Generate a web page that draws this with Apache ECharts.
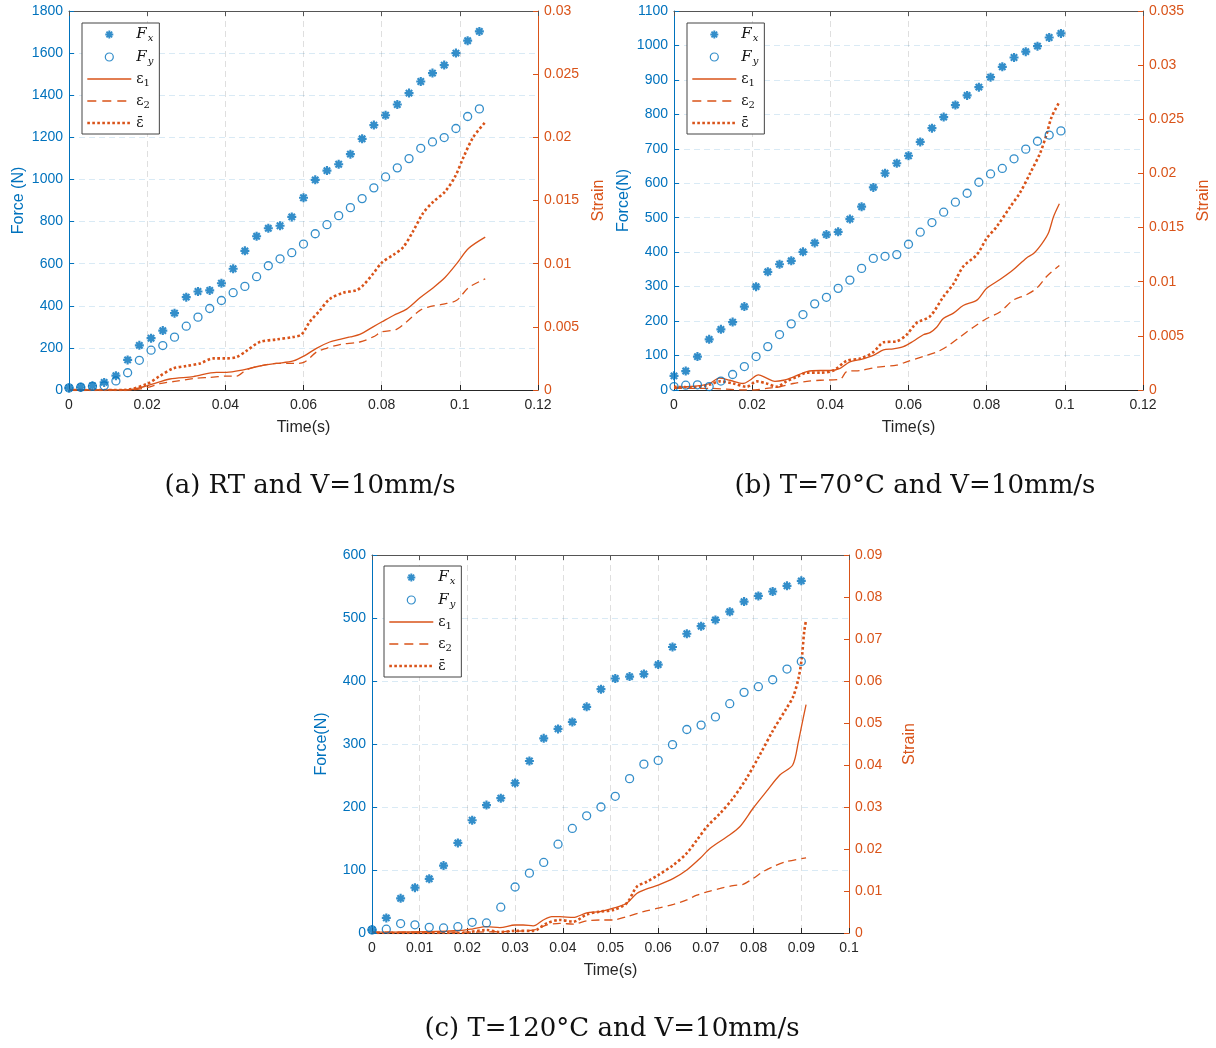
<!DOCTYPE html>
<html><head><meta charset="utf-8">
<script src="https://cdn.jsdelivr.net/npm/echarts@6/dist/echarts.min.js"></script>
<style>html,body{margin:0;padding:0;background:#fff}#c{width:1216px;height:1048px}</style>
</head><body><div id="c"></div>
<script>
// ---------- (a) RT ----------
const aT = [0,0.003,0.006,0.009,0.012,0.015,0.018,0.021,0.024,0.027,0.030,0.033,0.036,0.039,0.042,0.045,0.048,0.051,0.054,0.057,0.060,0.063,0.066,0.069,0.072,0.075,0.078,0.081,0.084,0.087,0.090,0.093,0.096,0.099,0.102,0.105];
const aFx = [10,13,20,36,68,143,212,246,282,365,441,468,473,507,576,661,730,768,780,822,913,998,1042,1072,1120,1193,1258,1305,1356,1410,1465,1505,1543,1600,1659,1703];
const aFy = [10,13,17,20,43,82,141,189,211,251,303,346,387,425,462,492,538,590,623,652,693,742,785,828,866,909,960,1012,1055,1099,1148,1178,1199,1242,1299,1335];
const aE1T = [0,0.010,0.0147,0.0201,0.0258,0.0318,0.0377,0.0403,0.0446,0.0488,0.0531,0.0574,0.0602,0.0633,0.0667,0.0693,0.0719,0.0744,0.0778,0.0801,0.0830,0.0864,0.0898,0.0932,0.0962,0.0992,0.1022,0.1065];
const aE1 = [0,0,0,0.00034,0.00087,0.00106,0.0014,0.0014,0.0016,0.0019,0.0021,0.0023,0.0027,0.0033,0.0038,0.004,0.0042,0.0044,0.005,0.0054,0.0059,0.0064,0.0073,0.0081,0.0089,0.01,0.0112,0.0121];
const aE2T = [0,0.0155,0.0201,0.0232,0.0275,0.0318,0.036,0.0403,0.0428,0.0454,0.0488,0.0531,0.0574,0.0602,0.0633,0.0659,0.0693,0.0744,0.0778,0.0801,0.0838,0.0864,0.0898,0.0923,0.0958,0.0992,0.1022,0.1065];
const aE2 = [0,0,0.0002,0.0005,0.0007,0.0009,0.001,0.0011,0.0011,0.0016,0.0019,0.0021,0.0021,0.0022,0.003,0.0033,0.0036,0.0038,0.0042,0.0046,0.0048,0.0054,0.0063,0.0066,0.0068,0.0071,0.0081,0.0088];
const aEbT = [0,0.014,0.0201,0.0232,0.0266,0.03,0.0335,0.0369,0.0403,0.0428,0.0454,0.0488,0.0531,0.0574,0.0595,0.0616,0.0642,0.0667,0.0702,0.0736,0.0753,0.0778,0.0801,0.083,0.0855,0.0881,0.0906,0.0932,0.0962,0.0988,0.1009,0.1034,0.1065];
const aEb = [0,0,0.0005,0.0011,0.0017,0.0019,0.0021,0.0025,0.0025,0.0026,0.0031,0.0038,0.004,0.0042,0.0044,0.0054,0.0063,0.0072,0.0077,0.0079,0.0083,0.0092,0.0101,0.0107,0.0113,0.0126,0.014,0.0149,0.0157,0.0169,0.0184,0.02,0.0212];

// ---------- (b) T=70°C ----------
const bT = [0,0.003,0.006,0.009,0.012,0.015,0.018,0.021,0.024,0.027,0.030,0.033,0.036,0.039,0.042,0.045,0.048,0.051,0.054,0.057,0.060,0.063,0.066,0.069,0.072,0.075,0.078,0.081,0.084,0.087,0.090,0.093,0.096,0.099];
const bFx = [41,55,97,147,176,197,242,300,343,365,375,401,427,451,459,496,532,588,629,658,680,720,760,792,827,855,879,908,938,965,982,998,1023,1035];
const bFy = [10,14,15,10,26,45,68,97,126,161,192,219,250,269,295,319,353,382,388,393,423,458,486,516,545,571,603,627,643,671,699,722,740,752];
const bE1T = [0,0.0032,0.0075,0.0092,0.0116,0.0143,0.0177,0.0194,0.0216,0.0237,0.0258,0.028,0.0305,0.034,0.0374,0.0399,0.0425,0.045,0.0476,0.051,0.0536,0.0561,0.0587,0.0612,0.0638,0.0655,0.0672,0.0689,0.0715,0.074,0.0775,0.08,0.0834,0.0868,0.0902,0.092,0.0941,0.0958,0.0971,0.0986];
const bE1 = [0.00025,0.0003,0.00046,0.0006,0.0011,0.0009,0.0006,0.0009,0.0014,0.0011,0.0008,0.0009,0.0012,0.0017,0.0018,0.0018,0.002,0.0026,0.0028,0.0032,0.0037,0.0038,0.004,0.0045,0.0051,0.0053,0.0058,0.0066,0.0071,0.0078,0.0083,0.0094,0.0102,0.0111,0.0122,0.0126,0.0135,0.0145,0.016,0.0172];
const bE2T = [0,0.0092,0.0177,0.0207,0.0237,0.0271,0.0305,0.034,0.0374,0.0425,0.0442,0.0476,0.0519,0.057,0.0595,0.0638,0.0672,0.0698,0.0732,0.0766,0.08,0.0834,0.0868,0.0902,0.0928,0.0954,0.0986];
const bE2 = [0.00015,0.00015,0,0,0.00015,0.0003,0.0006,0.0008,0.0009,0.001,0.0017,0.0018,0.0021,0.0023,0.0026,0.0031,0.0035,0.004,0.0049,0.0058,0.0066,0.0072,0.0083,0.0088,0.0094,0.0105,0.0115];
const bEbT = [0,0.0049,0.0092,0.0118,0.0152,0.0186,0.0212,0.0237,0.0263,0.0288,0.0314,0.034,0.0374,0.0408,0.0442,0.0476,0.051,0.0536,0.057,0.0595,0.0621,0.0655,0.0689,0.0715,0.074,0.0775,0.08,0.0826,0.086,0.0885,0.0911,0.0937,0.0954,0.0966,0.0986];
const bEb = [0.0003,0.00025,0.0005,0.0008,0.0006,0.0003,0.0008,0.0006,0.0003,0.0008,0.0012,0.0016,0.0016,0.0018,0.0027,0.0029,0.0035,0.0044,0.0045,0.0051,0.0062,0.0068,0.0086,0.0098,0.0114,0.0125,0.014,0.0151,0.0169,0.0182,0.02,0.0219,0.0237,0.0252,0.0266];

// ---------- (c) T=120°C ----------
const cT = [0,0.003,0.006,0.009,0.012,0.015,0.018,0.021,0.024,0.027,0.030,0.033,0.036,0.039,0.042,0.045,0.048,0.051,0.054,0.057,0.060,0.063,0.066,0.069,0.072,0.075,0.078,0.081,0.084,0.087,0.090];
const cFx = [5,24,55,72,86,107,143,179,203,214,238,273,309,324,335,359,387,404,407,411,426,454,475,487,497,510,526,535,542,551,559];
const cFy = [5,6,15,13,9,8,10,17,16,41,73,95,112,141,166,186,200,217,245,268,274,299,323,330,343,364,382,391,402,419,431];
const cE1T = [0,0.0045,0.0115,0.0184,0.0212,0.024,0.0268,0.03,0.0317,0.0338,0.0359,0.0377,0.0394,0.0422,0.045,0.0478,0.0506,0.0534,0.0555,0.0576,0.06,0.0632,0.066,0.0688,0.0709,0.0744,0.0771,0.0799,0.0827,0.0855,0.0882,0.0894,0.0901,0.091];
const cE1 = [0.0002,0.0002,0.0003,0.0006,0.001,0.0015,0.0013,0.0019,0.0019,0.0017,0.0031,0.0039,0.0039,0.0037,0.0048,0.0051,0.0059,0.0071,0.0094,0.0105,0.0114,0.013,0.015,0.0178,0.0202,0.0229,0.0253,0.0297,0.0337,0.0376,0.04,0.0456,0.0495,0.0544];
const cE2T = [0,0.0184,0.0254,0.0338,0.0366,0.0394,0.0422,0.045,0.0478,0.0506,0.0534,0.0569,0.06,0.0632,0.066,0.0681,0.0702,0.073,0.0757,0.0778,0.0799,0.082,0.0841,0.0869,0.091];
const cE2 = [0.0002,0.0002,0.0003,0.0007,0.0019,0.0023,0.0021,0.0029,0.0031,0.0031,0.0039,0.0051,0.0059,0.0068,0.0079,0.009,0.0098,0.0106,0.0113,0.0116,0.013,0.0146,0.0158,0.017,0.0179];
const cEbT = [0,0.0184,0.024,0.0268,0.03,0.0338,0.0366,0.0394,0.0422,0.045,0.0478,0.0506,0.0534,0.0555,0.0576,0.06,0.0632,0.066,0.0681,0.0702,0.073,0.0757,0.0785,0.0813,0.0841,0.0869,0.0883,0.0894,0.0901,0.0906,0.091];
const cEb = [0,0,0.0007,0.0002,0.0005,0.0005,0.0023,0.0031,0.0027,0.0044,0.0051,0.0055,0.0071,0.011,0.0122,0.0138,0.0162,0.019,0.0221,0.0253,0.0285,0.0321,0.0368,0.0424,0.0483,0.0535,0.0563,0.0606,0.0654,0.0717,0.0745];

const captions = ['(a) RT and V=10mm/s', '(b) T=70°C and V=10mm/s', '(c) T=120°C and V=10mm/s'];
const forceNames = ['Force (N)', 'Force(N)', 'Force(N)'];

const BLUE = '#0072BD', ORANGE = '#D95319', DARK = '#262626';
const SANS = 'Liberation Sans, Arial, sans-serif';
const STAR = 'path://M-0.24,-1 L0.24,-1 L0.24,1 L-0.24,1 Z M-1,-0.24 L1,-0.24 L1,0.24 L-1,0.24 Z M-0.537,-0.877 L0.877,0.537 L0.537,0.877 L-0.877,-0.537 Z M-0.877,0.537 L0.537,-0.877 L0.877,-0.537 L-0.537,0.877 Z';

const zip = (t, v) => t.map((x, i) => [x, v[i]]);

const panels = [
  {grid:{left:69, top:11, width:469, height:379}, xmax:0.12, xint:0.02, fmax:1800, fint:200, smax:0.03, sint:0.005,
   legend:{left:82, top:23}, cap:{x:310, y:486},
   T:aT, Fx:aFx, Fy:aFy, E1T:aE1T, E1:aE1, E2T:aE2T, E2:aE2, EbT:aEbT, Eb:aEb},
  {grid:{left:674, top:11, width:469, height:379}, xmax:0.12, xint:0.02, fmax:1100, fint:100, smax:0.035, sint:0.005,
   legend:{left:687, top:23}, cap:{x:915, y:486},
   T:bT, Fx:bFx, Fy:bFy, E1T:bE1T, E1:bE1, E2T:bE2T, E2:bE2, EbT:bEbT, Eb:bEb},
  {grid:{left:372, top:555, width:477, height:378}, xmax:0.1, xint:0.01, fmax:600, fint:100, smax:0.09, sint:0.01,
   legend:{left:384, top:566}, cap:{x:612, y:1029},
   T:cT, Fx:cFx, Fy:cFy, E1T:cE1T, E1:cE1, E2T:cE2T, E2:cE2, EbT:cEbT, Eb:cEb}
];

const grid = [], xAxis = [], yAxis = [], series = [], legend = [], graphic = [];
panels.forEach((p, k) => {
  grid.push(Object.assign({containLabel:false}, p.grid));
  xAxis.push({gridIndex:k, type:'value', min:0, max:p.xmax, interval:p.xint, position:'bottom',
    axisLine:{show:true, onZero:false, lineStyle:{color:DARK, width:1}},
    axisTick:{show:true, inside:true, length:5, lineStyle:{color:DARK}},
    axisLabel:{color:DARK, fontSize:14, fontFamily:SANS, margin:8, formatter:v => String(v)},
    splitLine:{show:true, lineStyle:{type:[6,4], color:'rgba(38,38,38,0.15)'}},
    name:'Time(s)', nameLocation:'middle', nameGap:30, nameTextStyle:{color:DARK, fontSize:16, fontFamily:SANS}});
  xAxis.push({gridIndex:k, type:'value', min:0, max:p.xmax, interval:p.xint, position:'top',
    axisLine:{show:true, onZero:false, lineStyle:{color:'#555', width:1}},
    axisTick:{show:true, inside:true, length:5, lineStyle:{color:'#555'}},
    axisLabel:{show:false}, splitLine:{show:false}});
  yAxis.push({gridIndex:k, type:'value', min:0, max:p.fmax, interval:p.fint, position:'left',
    axisLine:{show:true, onZero:false, lineStyle:{color:BLUE, width:1}},
    axisTick:{show:true, inside:true, length:5, lineStyle:{color:BLUE}},
    axisLabel:{color:BLUE, fontSize:14, fontFamily:SANS, margin:6, formatter:v => String(v)},
    splitLine:{show:true, lineStyle:{type:[6,4], color:'rgba(0,114,189,0.15)'}},
    name:forceNames[k], nameLocation:'middle', nameGap:42, nameRotate:90,
    nameTextStyle:{color:BLUE, fontSize:16, fontFamily:SANS}});
  yAxis.push({gridIndex:k, type:'value', min:0, max:p.smax, interval:p.sint, position:'right',
    axisLine:{show:true, onZero:false, lineStyle:{color:ORANGE, width:1}},
    axisTick:{show:true, inside:true, length:5, lineStyle:{color:ORANGE}},
    axisLabel:{color:ORANGE, fontSize:14, fontFamily:SANS, margin:6, formatter:v => String(+v.toFixed(4))},
    splitLine:{show:false},
    name:'Strain', nameLocation:'middle', nameGap:53, nameRotate:90,
    nameTextStyle:{color:ORANGE, fontSize:16, fontFamily:SANS}});
  const xi = 2*k, yl = 2*k, yr = 2*k+1;
  series.push({name:'Fx', type:'scatter', xAxisIndex:xi, yAxisIndex:yl, data:zip(p.T, p.Fx),
    symbol:STAR, symbolSize:9, itemStyle:{color:BLUE}, z:5});
  series.push({name:'Fy', type:'scatter', xAxisIndex:xi, yAxisIndex:yl, data:zip(p.T, p.Fy),
    symbol:'circle', symbolSize:8, itemStyle:{color:'rgba(255,255,255,0)', borderColor:BLUE, borderWidth:1.3}, z:5});
  series.push({name:'e1', type:'line', xAxisIndex:xi, yAxisIndex:yr, data:zip(p.E1T, p.E1),
    symbol:'none', smooth:0.3, lineStyle:{color:ORANGE, width:1.3, type:'solid'}, itemStyle:{color:ORANGE}});
  series.push({name:'e2', type:'line', xAxisIndex:xi, yAxisIndex:yr, data:zip(p.E2T, p.E2),
    symbol:'none', smooth:0.3, lineStyle:{color:ORANGE, width:1.3, type:[8,5]}, itemStyle:{color:ORANGE}});
  series.push({name:'eb', type:'line', xAxisIndex:xi, yAxisIndex:yr, data:zip(p.EbT, p.Eb),
    symbol:'none', smooth:0.3, lineStyle:{color:ORANGE, width:2.6, type:[2.6,2.4]}, itemStyle:{color:ORANGE}});
  const hide = {opacity:0};
  legend.push({left:p.legend.left, top:p.legend.top, orient:'vertical',
    data:[{name:'Fx'},
          {name:'Fy', itemStyle:{borderWidth:1.2}},
          {name:'e1', itemStyle:hide, lineStyle:{width:1.3, type:'solid'}},
          {name:'e2', itemStyle:hide, lineStyle:{width:1.3, type:[9,6]}},
          {name:'eb', itemStyle:hide, lineStyle:{width:2.6, type:[2.6,2.4]}}],
    itemWidth:44, itemHeight:8, itemGap:6,
    padding:[4,6,4,4], backgroundColor:'#fff', borderColor:'#444', borderWidth:1,
    selectedMode:false,
    formatter: n => ({Fx:'{i|F}{s|x}', Fy:'{i|F}{s|y}', e1:'{g|ε}{n|1}', e2:'{g|ε}{n|2}', eb:'{g|ε̄}'})[n],
    textStyle:{color:'#111', rich:{
      i:{fontFamily:'DejaVu Serif', fontStyle:'italic', fontSize:15, lineHeight:18},
      s:{fontFamily:'DejaVu Serif', fontStyle:'italic', fontSize:10, lineHeight:18, verticalAlign:'bottom', padding:[0,0,0,1]},
      g:{fontFamily:'DejaVu Serif', fontSize:14, lineHeight:18},
      n:{fontFamily:'DejaVu Serif', fontSize:10, lineHeight:18, verticalAlign:'bottom'}
    }}});
  graphic.push({type:'text', x:p.cap.x, y:p.cap.y, style:{text:captions[k], fill:'#111',
    font:'26px "DejaVu Serif"', textAlign:'center', textVerticalAlign:'middle'}});
});

const chart = echarts.init(document.getElementById('c'), null, {renderer:'canvas'});
chart.setOption({animation:false, backgroundColor:'#fff', grid, xAxis, yAxis, series, legend, graphic});
</script></body></html>
